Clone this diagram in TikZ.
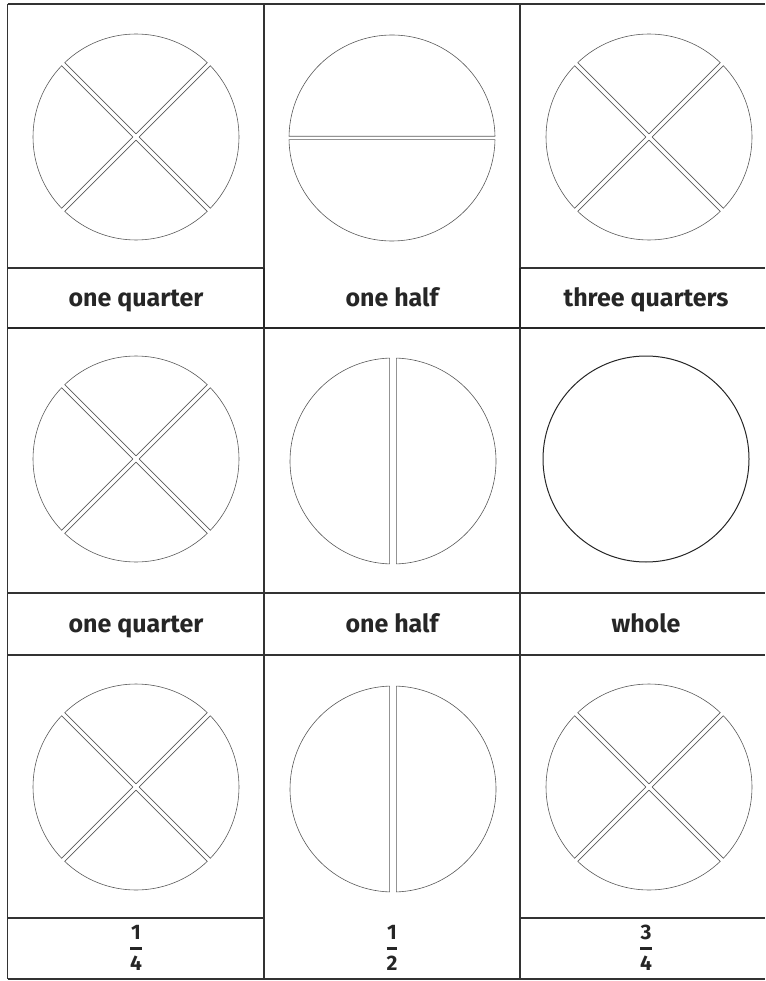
\documentclass[tikz,border=0pt]{standalone}
\usepackage{amsmath}
\usepackage{fontspec}
\setmainfont{Fira Sans}
\usetikzlibrary{calc}

% radius of every circle
\newcommand\rad{103}
% one piece of a cut circle: centre, start angle, end angle, half gap
\newcommand\piece[4]{%
  \pgfmathsetmacro\gapang{asin(#4/\rad)}
  \pgfmathsetmacro\apexd{#4/sin((#3-#2)/2)}
  \pgfmathsetmacro\midang{(#2+#3)/2}
  \pgfmathsetmacro\angs{#2+\gapang}
  \pgfmathsetmacro\ange{#3-\gapang}
  \draw[part] ($(#1)+(\midang:\apexd)$) -- ($(#1)+(\angs:\rad)$)
    arc[start angle=\angs, end angle=\ange, radius=\rad] -- cycle;
}
% stacked fraction with a thick bar
\newcommand\vfrac[2]{$\genfrac{}{}{2.2pt}{0}{\text{#1}}{\text{#2}}$}

\begin{document}
\begin{tikzpicture}[
    x=1pt, y=-1pt,
    grid/.style  = {line width=1.4pt, black!80},
    heavy/.style = {line width=2.8pt, black!85},
    part/.style  = {line width=0.6pt, black!65, line join=round},
    whole/.style = {line width=1pt, black!85},
    lbl/.style   = {font=\fontsize{25}{29}\selectfont\bfseries,
                    text=black!85, inner sep=0pt, anchor=base},
    frc/.style   = {font=\fontsize{21}{25}\selectfont\bfseries,
                    text=black!85, inner sep=0pt}
  ]

  \useasboundingbox (0,0) rectangle (765,981);

  % card frames
  \draw[grid] (7.5,4) -- (765,4);
  \draw[grid] (7.5,268) -- (264,268);
  \draw[grid] (520,268) -- (765,268);
  \draw[heavy] (7.5,328) -- (765,328);
  \draw[grid] (7.5,593) -- (765,593);
  \draw[grid] (7.5,655) -- (765,655);
  \draw[grid] (7.5,918) -- (264,918);
  \draw[grid] (520,918) -- (765,918);
  \draw[grid] (7.5,979) -- (765,979);
  \foreach \x in {7.5,264,520}
    \draw[grid] (\x,4) -- (\x,979);
  \draw[heavy] (264,268) -- (264,328);
  \draw[heavy] (520,268) -- (520,328);

  % circle centres
  \coordinate (qa) at (136,137);
  \coordinate (ha) at (392,138);
  \coordinate (qb) at (649,137);
  \coordinate (qc) at (136,459);
  \coordinate (hb) at (393,461);
  \coordinate (wh) at (646,459);
  \coordinate (qd) at (136,787);
  \coordinate (hc) at (393,789);
  \coordinate (qe) at (649,787);

  % quarters
  \foreach \c in {qa,qb,qc,qd,qe} {
    \foreach \a in {45,135,225,315} {
      \piece{\c}{\a}{\a+90}{2.2}
    }
  }

  % halves
  \piece{ha}{0}{180}{1.7}
  \piece{ha}{180}{360}{1.7}
  \foreach \c in {hb,hc} {
    \piece{\c}{90}{270}{3.4}
    \piece{\c}{-90}{90}{3.4}
  }

  % whole
  \draw[whole] (wh) circle[radius=\rad];

  % labels
  \node[lbl] (la) at (136,306) {one quarter};
  \node[lbl] (lb) at (392,306) {one half};
  \node[lbl] (lc) at (646,306) {three quarters};
  \node[lbl] (ld) at (136,632) {one quarter};
  \node[lbl] (le) at (392,632) {one half};
  \node[lbl] (lf) at (646,632) {whole};
  \node[frc] (fa) at (136,948) {\vfrac{1}{4}};
  \node[frc] (fb) at (392,948) {\vfrac{1}{2}};
  \node[frc] (fc) at (646,948) {\vfrac{3}{4}};

\end{tikzpicture}
\end{document}
